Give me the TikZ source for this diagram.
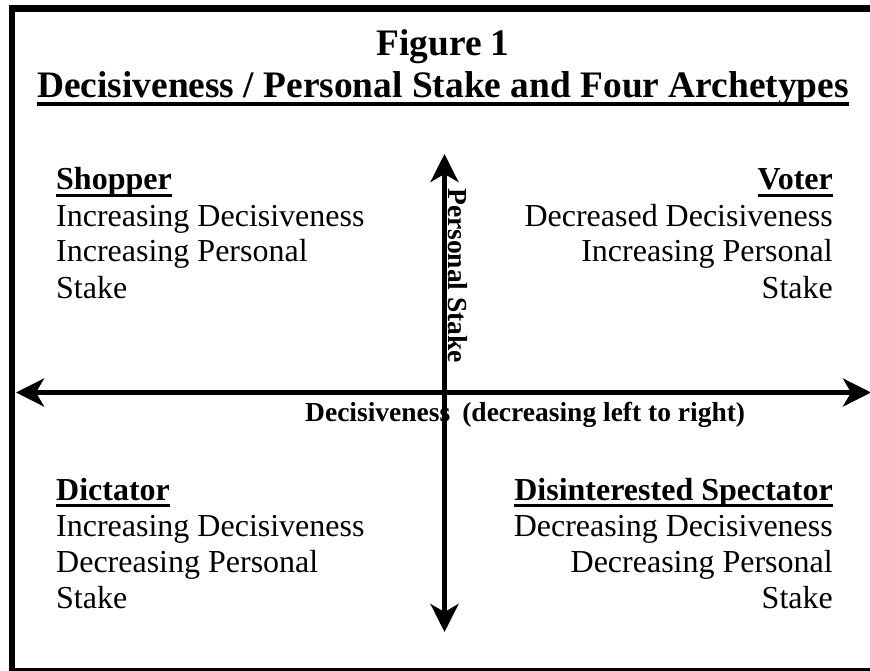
\documentclass[tikz,border=0pt]{standalone}
\usepackage{fontspec}
\setmainfont{Liberation Serif}
\usetikzlibrary{arrows.meta}
\newcommand{\undl}[1]{\setbox0\hbox{#1}\rlap{\rule[-0.22em]{\wd0}{0.11em}}\box0}

\begin{document}
\begin{tikzpicture}[x=1pt,y=-1pt,
    axis/.style={line width=4.5pt,
      {Stealth[length=28pt,width=28pt,inset=8pt]}-{Stealth[length=28pt,width=28pt,inset=8pt]}},
    quad/.style={inner sep=0pt,font=\fontsize{32}{36}\selectfont},
    axislabel/.style={inner sep=0pt,font=\fontsize{27.5}{30}\selectfont\bfseries}]
    \useasboundingbox (0,0) rectangle (870,671);

    % Frame (open to the right)
    \draw[line width=6.5pt] (880,8.5) -- (12,8.5) -- (12,671) -- (880,671);

    % Title
    \node[inner sep=0pt,anchor=base,font=\fontsize{37.4}{40}\selectfont\bfseries] (fig) at (443,56) {Figure 1};
    \node[inner sep=0pt,anchor=base,font=\fontsize{37.4}{40}\selectfont\bfseries] (title) at (443,98)
      {\undl{Decisiveness / Personal Stake and Four Archetypes}};

    % Axes
    \coordinate (west) at (16,392.5);
    \coordinate (east) at (871,392.5);
    \coordinate (north) at (444.5,154);
    \coordinate (south) at (444.5,632);
    \draw[axis] (west) -- (east);
    \draw[axis] (south) -- (north);

    \node[axislabel,rotate=-90,anchor=base west] (stake) at (448,188) {Personal Stake};
    \node[axislabel,anchor=base west] (decis) at (305,421) {Decisiveness\hspace{12pt}(decreasing left to right)};

    % Four archetypes (base = last line)
    \node[quad,anchor=base west,align=left] (shopper) at (56,298)
      {\undl{\bfseries Shopper}\\Increasing Decisiveness\\Increasing Personal\\Stake};
    \node[quad,anchor=base east,align=right] (voter) at (833,298)
      {\undl{\bfseries Voter}\\Decreased Decisiveness\\Increasing Personal\\Stake};
    \node[quad,anchor=base west,align=left] (dictator) at (56,608)
      {\undl{\bfseries Dictator}\\Increasing Decisiveness\\Decreasing Personal\\Stake};
    \node[quad,anchor=base east,align=right] (spectator) at (833,608)
      {\undl{\bfseries Disinterested Spectator}\\Decreasing Decisiveness\\Decreasing Personal\\Stake};
\end{tikzpicture}
\end{document}
